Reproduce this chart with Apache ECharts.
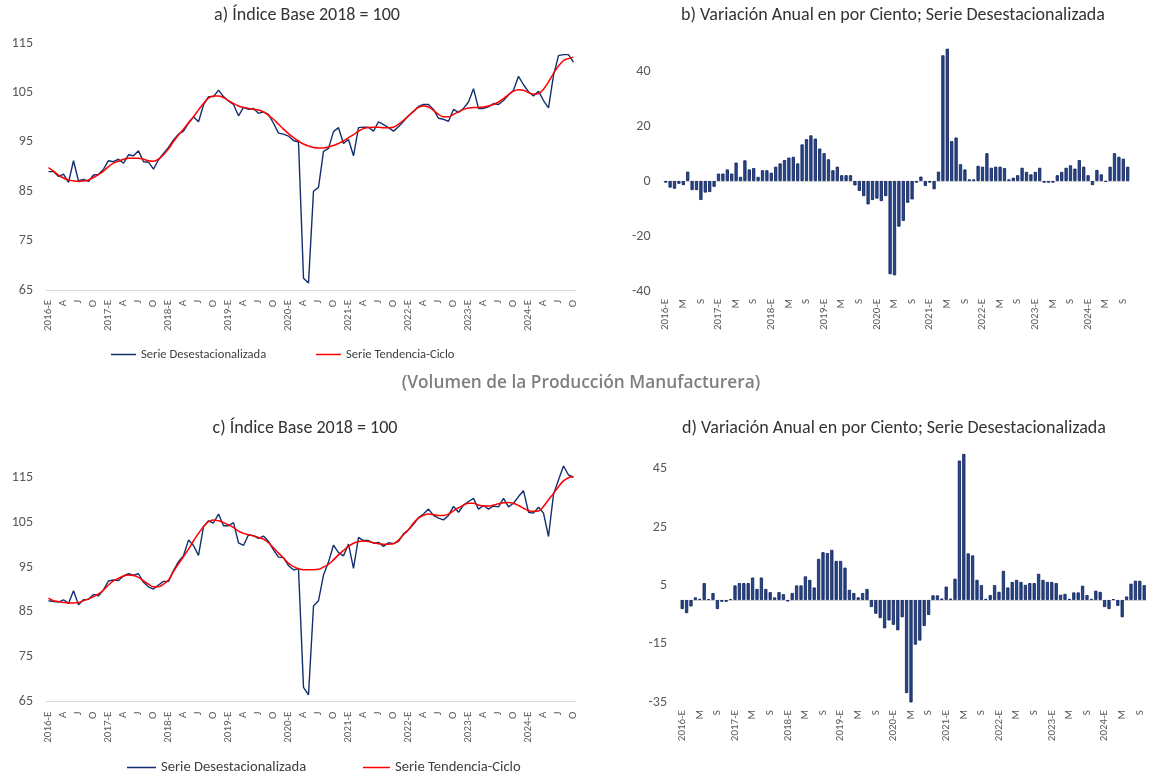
<!DOCTYPE html>
<html>
<head>
<meta charset="utf-8">
<script src="https://cdn.jsdelivr.net/npm/echarts@6/dist/echarts.min.js"></script>
<style>
html,body{margin:0;padding:0;background:#fff;}
#chart{width:1158px;height:774px;}
</style>
</head>
<body>
<div id="chart"></div>
<script>
// ---- tick label pieces ----
const years = [2016, 2017, 2018, 2019, 2020, 2021, 2022, 2023, 2024];
const monthLetters = ['E', 'F', 'M', 'A', 'M', 'J', 'J', 'A', 'S', 'O', 'N', 'D'];
const nMonths = 106; // 2016-E .. 2024-O

// ---- texts ----
const sectionTitle = '(Volumen de la Producción Manufacturera)';
const titleA = 'a) Índice Base 2018 = 100';
const titleB = 'b) Variación Anual en por Ciento; Serie Desestacionalizada';
const titleC = 'c) Índice Base 2018 = 100';
const titleD = 'd) Variación Anual en por Ciento; Serie Desestacionalizada';
const nameSA = 'Serie Desestacionalizada';
const nameTC = 'Serie Tendencia-Ciclo';

// ---- panel a: index, seasonally adjusted ----
const desestA = [
  89.0, 89.0, 88.0, 88.5, 86.8, 91.2, 87.1, 87.4, 87.0, 88.3, 88.4, 89.5,
  91.2, 91.0, 91.5, 90.7, 92.4, 92.2, 93.2, 91.0, 90.9, 89.5, 91.4, 92.7,
  93.9, 95.4, 96.6, 97.2, 98.8, 100.1, 99.1, 102.5, 104.2, 104.2, 105.5, 104.2,
  103.3, 102.6, 100.3, 102.0, 101.6, 101.8, 100.8, 101.1, 100.6, 98.8, 96.8, 96.6,
  96.2, 95.3, 95.0, 67.4, 66.4, 85.0, 85.8, 93.1, 93.7, 97.1, 97.9, 94.7,
  95.5, 92.2, 97.9, 98.0, 98.0, 97.2, 99.1, 98.5, 97.9, 97.2, 98.1, 99.2,
  100.3, 101.2, 102.2, 102.6, 102.6, 101.6, 99.8, 99.6, 99.2, 101.6, 101.0, 101.8,
  103.1, 105.8, 101.8, 101.8, 102.1, 102.8, 102.6, 103.4, 104.5, 105.5, 108.3, 106.6,
  105.2, 104.3, 105.3, 103.4, 101.9, 108.5, 112.5, 112.7, 112.7, 111.2
];
const tendA = [
  89.8, 89.1, 88.3, 87.7, 87.3, 87.1, 87.0, 87.1, 87.3, 87.8, 88.4, 89.1,
  90.0, 90.7, 91.1, 91.5, 91.7, 91.7, 91.7, 91.5, 91.2, 91.1, 91.5, 92.4,
  93.6, 95.1, 96.4, 97.6, 98.9, 100.1, 101.5, 102.8, 103.9, 104.3, 104.3, 104.0,
  103.4, 102.8, 102.3, 102.0, 101.8, 101.6, 101.5, 101.1, 100.4, 99.6, 98.6, 97.6,
  96.7, 95.9, 95.2, 94.6, 94.2, 93.9, 93.8, 93.8, 94.0, 94.3, 94.7, 95.2,
  95.9, 96.5, 97.2, 97.7, 97.9, 98.0, 98.0, 97.9, 97.9, 98.0, 98.6, 99.4,
  100.3, 101.2, 102.0, 102.3, 102.1, 101.4, 100.6, 100.1, 100.1, 100.6, 101.1, 101.6,
  101.9, 102.0, 102.0, 102.1, 102.3, 102.6, 103.1, 103.8, 104.6, 105.3, 105.6, 105.5,
  105.0, 104.7, 104.8, 105.7, 107.2, 108.9, 110.4, 111.5, 111.9, 112.2
];

// ---- panel b: annual % change ----
const varB = [
  -0.6, -2.4, -2.8, -1.0, -1.5, 3.4, -3.3, -3.3, -6.9, -4.2, -4.0, -2.1,
  2.7, 2.7, 4.2, 2.7, 6.7, 1.5, 7.5, 4.2, 4.7, 1.5, 3.9, 3.9,
  3.0, 5.2, 6.4, 7.6, 8.5, 8.8, 6.4, 13.3, 15.2, 16.6, 15.4, 11.8,
  10.1, 7.9, 3.9, 5.2, 2.1, 2.1, 2.1, -1.6, -3.6, -5.5, -8.5, -6.9,
  -6.4, -7.3, -5.5, -33.9, -34.3, -16.6, -14.5, -7.9, -6.7, -0.6, 1.6, -1.8,
  -0.6, -3.0, 3.4, 45.7, 48.1, 14.5, 15.8, 6.1, 4.2, 0.6, 0.6, 5.5,
  5.2, 10.1, 4.8, 5.2, 5.2, 4.7, 0.6, 1.2, 2.1, 4.8, 3.3, 2.4,
  3.3, 4.8, -0.6, -0.6, -0.6, 2.1, 3.3, 4.8, 5.7, 4.5, 7.6, 5.2,
  2.1, -1.5, 4.0, 2.4, -0.2, 5.2, 10.1, 8.8, 8.1, 5.2
];

// ---- panel c: index, seasonally adjusted ----
const desestC = [
  87.5, 87.3, 87.2, 87.7, 86.9, 89.7, 86.6, 87.7, 87.8, 88.9, 88.6, 89.9,
  91.9, 92.1, 92.0, 93.0, 93.5, 93.2, 93.5, 91.6, 90.6, 90.1, 91.0, 91.8,
  91.8, 94.2, 96.2, 97.5, 101.0, 99.8, 97.6, 104.0, 105.3, 104.8, 106.8, 104.2,
  104.2, 104.9, 100.4, 99.8, 102.2, 102.0, 101.4, 101.9, 100.7, 98.8, 97.2, 97.1,
  95.3, 94.4, 94.6, 68.2, 66.5, 86.3, 87.5, 93.2, 96.1, 99.9, 98.2, 97.5,
  100.1, 94.7, 101.6, 100.9, 100.9, 100.3, 100.5, 99.6, 100.4, 100.2, 100.7, 102.4,
  103.3, 104.5, 106.0, 106.8, 107.9, 106.5, 105.9, 105.5, 106.5, 108.5, 107.2, 108.8,
  109.6, 110.3, 107.9, 108.7, 107.9, 108.6, 108.4, 110.3, 108.4, 109.2, 110.7, 112.0,
  107.2, 107.0, 108.3, 107.0, 101.8, 111.2, 114.4, 117.5, 115.5, 115.0
];
const tendC = [
  88.1, 87.5, 87.3, 87.1, 87.0, 87.0, 87.1, 87.5, 87.9, 88.4, 89.0, 89.9,
  91.0, 91.9, 92.5, 93.0, 93.2, 93.1, 92.7, 91.9, 91.2, 90.6, 90.6, 91.2,
  92.1, 94.0, 95.7, 97.3, 99.0, 100.8, 102.5, 104.0, 105.1, 105.5, 105.3, 104.9,
  104.4, 103.8, 103.0, 102.5, 102.2, 101.9, 101.6, 101.2, 100.4, 99.3, 98.1, 97.0,
  95.8, 95.1, 94.6, 94.4, 94.4, 94.4, 94.5, 95.0, 95.6, 96.6, 97.7, 98.7,
  99.6, 100.3, 100.7, 100.8, 100.7, 100.4, 100.2, 100.1, 100.1, 100.2, 101.0, 102.2,
  103.3, 104.8, 105.9, 106.5, 106.8, 106.7, 106.5, 106.5, 106.8, 107.5, 108.2, 108.8,
  109.2, 109.2, 108.8, 108.6, 108.6, 108.8, 109.1, 109.3, 109.4, 109.2, 108.7, 108.1,
  107.6, 107.4, 107.5, 108.5, 110.0, 111.4, 112.9, 114.2, 114.9, 115.1
];

// ---- panel d: annual % change ----
const varD = [
  -3.1, -4.5, -2.2, 0.9, 0.4, 5.8, 0.3, 2.4, -3.1, -0.6, -0.6, 0.3,
  5.0, 5.8, 5.8, 5.8, 7.7, 3.8, 7.7, 3.8, 2.7, 0.9, 2.7, 2.0,
  -0.5, 2.4, 5.0, 5.0, 8.1, 6.9, 4.3, 14.1, 16.4, 16.1, 17.2, 13.4,
  13.4, 11.1, 3.5, 2.4, 0.9, 2.4, 3.8, -2.4, -4.7, -6.2, -9.7, -7.0,
  -8.5, -10.4, -5.9, -31.9, -35.1, -15.3, -13.9, -8.9, -5.1, 1.6, 1.6, 0.5,
  4.6, 0.5, 7.3, 47.8, 50.1, 16.0, 15.3, 6.9, 5.1, 0.4, 1.7, 5.1,
  2.8, 10.0, 4.3, 6.2, 6.9, 6.2, 5.2, 5.8, 5.8, 9.0, 6.9, 6.2,
  6.2, 5.8, 1.8, 2.1, 0.4, 2.6, 2.6, 4.9, 1.7, 0.4, 3.2, 2.8,
  -2.4, -3.1, 0.3, -2.0, -5.9, 1.2, 5.6, 6.6, 6.6, 5.1
];

// ---- build categories ----
const categories = [];
for (let k = 0; k < nMonths; k++) {
  const y = years[Math.floor(k / 12)];
  const m = k % 12;
  categories.push(m === 0 ? y + '-E' : monthLetters[m]);
}

const FONT = 'Carlito, Lato, "Open Sans", sans-serif';
const BLUE = '#13306E';
const RED = '#FF0000';
const GRAY_AX = '#595959';
const AXIS_LINE = '#D9D9D9';
const TITLE_COLOR = '#333333';

function lineX(gi) {
  return {
    type: 'category', gridIndex: gi, data: categories, boundaryGap: true,
    axisLine: { show: true, onZero: false, lineStyle: { color: AXIS_LINE, width: 1 } },
    axisTick: { show: false },
    axisLabel: { interval: 2, rotate: 90, fontSize: 11, color: GRAY_AX, margin: 10, fontFamily: FONT },
    splitLine: { show: false }
  };
}
function lineY(gi, min, max) {
  return {
    type: 'value', gridIndex: gi, min: min, max: max, interval: 10,
    axisLine: { show: false }, axisTick: { show: false }, splitLine: { show: false },
    axisLabel: { fontSize: 14, color: GRAY_AX, margin: 13, fontFamily: FONT, showMaxLabel: max === 115 }
  };
}
function barX(gi) {
  return {
    type: 'category', gridIndex: gi, data: categories, boundaryGap: true,
    axisLine: { show: false, onZero: false }, axisTick: { show: false },
    axisLabel: { interval: 3, rotate: 90, fontSize: 11, color: GRAY_AX, margin: 8, fontFamily: FONT },
    splitLine: { show: false }
  };
}
function zeroX(gi) {
  return {
    type: 'category', gridIndex: gi, data: categories, position: 'top',
    axisLine: { show: true, onZero: true, lineStyle: { color: AXIS_LINE, width: 1 } },
    axisTick: { show: false }, axisLabel: { show: false }, splitLine: { show: false }
  };
}
function barY(gi, min, max) {
  return {
    type: 'value', gridIndex: gi, min: min, max: max, interval: 20,
    axisLine: { show: false }, axisTick: { show: false }, splitLine: { show: false },
    axisLabel: { fontSize: 14, color: GRAY_AX, margin: 13, fontFamily: FONT, showMaxLabel: false }
  };
}
function panelTitle(text, cx, top) {
  return { text: text, left: cx, top: top, textAlign: 'center', padding: 0,
    textStyle: { fontSize: 18, fontWeight: 'normal', color: TITLE_COLOR, fontFamily: FONT } };
}
function legendItem(name, color, left, top, w, fs) {
  return { data: [{ name: name, itemStyle: { color: color } }], left: left, top: top, padding: 0,
    icon: 'rect', itemWidth: w, itemHeight: 1.5, selectedMode: false,
    textStyle: { fontSize: fs, color: '#404040', fontFamily: FONT } };
}

const barStyle = { color: '#2A4788', borderColor: '#0B1F5B', borderWidth: 0.8 };

const option = {
  animation: false,
  backgroundColor: '#ffffff',
  textStyle: { fontFamily: FONT },
  title: [
    { text: sectionTitle, left: 581, top: 375, textAlign: 'center', padding: 0,
      textStyle: { fontSize: 17.3, fontWeight: 600, color: '#7F7F7F', fontFamily: '"Open Sans", sans-serif' } },
    panelTitle(titleA, 307, 6),
    panelTitle(titleB, 893, 6),
    panelTitle(titleC, 305, 419),
    panelTitle(titleD, 894, 419)
  ],
  legend: [
    legendItem(nameSA, BLUE, 111, 348, 25, 12.6),
    legendItem(nameTC, RED, 316, 348, 25, 12.6),
    legendItem(nameSA, BLUE, 127, 760, 29, 14.6),
    legendItem(nameTC, RED, 363, 760, 27, 14.6)
  ],
  grid: [
    { left: 46, top: 43.3, width: 530, height: 246.7 },
    { left: 663.5, top: 43.5, width: 466.4, height: 247.5 },
    { left: 46, top: 454.8, width: 530, height: 246.9 },
    { left: 680, top: 439.6, width: 466.4, height: 262.5 }
  ],
  xAxis: [
    lineX(0),            // 0
    barX(1), zeroX(1),   // 1,2
    lineX(2),            // 3
    barX(3), zeroX(3)    // 4,5
  ],
  yAxis: [
    lineY(0, 65, 115),
    barY(1, -40, 50),
    lineY(2, 65, 120),
    barY(3, -35, 55)
  ],
  series: [
    { name: nameSA, type: 'line', xAxisIndex: 0, yAxisIndex: 0, data: desestA, showSymbol: false, symbol: 'none',
      lineStyle: { color: BLUE, width: 1.4 }, itemStyle: { color: BLUE }, z: 2 },
    { name: nameTC, type: 'line', xAxisIndex: 0, yAxisIndex: 0, data: tendA, showSymbol: false, symbol: 'none',
      smooth: 0.4, lineStyle: { color: RED, width: 1.5 }, itemStyle: { color: RED }, z: 3 },
    { name: 'varB', type: 'bar', xAxisIndex: 1, yAxisIndex: 1, data: varB, barWidth: 3.2,
      itemStyle: barStyle, z: 3 },
    { name: nameSA, type: 'line', xAxisIndex: 3, yAxisIndex: 2, data: desestC, showSymbol: false, symbol: 'none',
      lineStyle: { color: BLUE, width: 1.4 }, itemStyle: { color: BLUE }, z: 2 },
    { name: nameTC, type: 'line', xAxisIndex: 3, yAxisIndex: 2, data: tendC, showSymbol: false, symbol: 'none',
      smooth: 0.4, lineStyle: { color: RED, width: 1.5 }, itemStyle: { color: RED }, z: 3 },
    { name: 'varD', type: 'bar', xAxisIndex: 4, yAxisIndex: 3, data: varD, barWidth: 3.2,
      itemStyle: barStyle, z: 3 }
  ]
};

const chart = echarts.init(document.getElementById('chart'), null, { renderer: 'canvas' });
chart.setOption(option);
</script>
</body>
</html>
